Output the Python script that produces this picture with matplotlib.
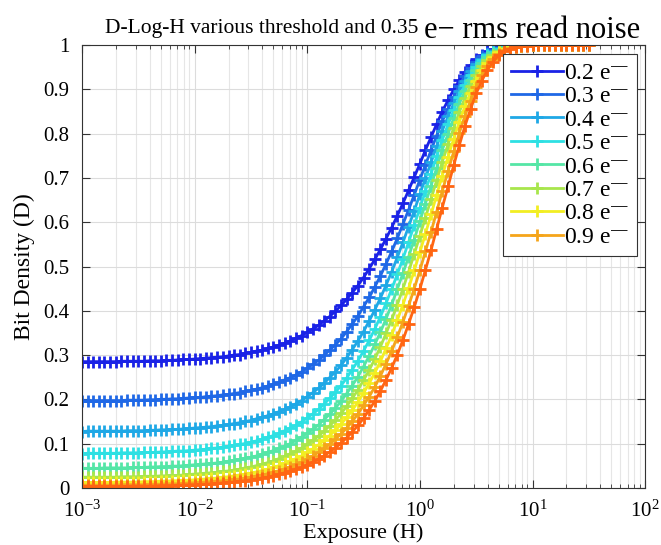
import matplotlib
matplotlib.use("Agg")
import matplotlib.pyplot as plt
from matplotlib.ticker import LogLocator, NullFormatter

plt.rcParams['font.family'] = ['Liberation Serif', 'DejaVu Serif']
plt.rcParams['mathtext.fontset'] = 'stix'

# exposure H, 20 samples per decade from 1e-3 to ~31.6
exposure = [0.00100, 0.00112, 0.00126, 0.00141, 0.00158, 0.00178, 0.00200, 0.00224, 0.00251, 0.00282,
            0.00316, 0.00355, 0.00398, 0.00447, 0.00501, 0.00562, 0.00631, 0.00708, 0.00794, 0.00891,
            0.0100, 0.0112, 0.0126, 0.0141, 0.0158, 0.0178, 0.0200, 0.0224, 0.0251, 0.0282,
            0.0316, 0.0355, 0.0398, 0.0447, 0.0501, 0.0562, 0.0631, 0.0708, 0.0794, 0.0891,
            0.100, 0.112, 0.126, 0.141, 0.158, 0.178, 0.200, 0.224, 0.251, 0.282,
            0.316, 0.355, 0.398, 0.447, 0.501, 0.562, 0.631, 0.708, 0.794, 0.891,
            1.00, 1.12, 1.26, 1.41, 1.58, 1.78, 2.00, 2.24, 2.51, 2.82,
            3.16, 3.55, 3.98, 4.47, 5.01, 5.62, 6.31, 7.08, 7.94, 8.91,
            10.0, 11.2, 12.6, 14.1, 15.8, 17.8, 20.0, 22.4, 25.1, 28.2, 31.6]

thresholds = ['0.2', '0.3', '0.4', '0.5', '0.6', '0.7', '0.8', '0.9', '1.0']

ONES = [1.0] * 10

d02 = [.285, .285, .285, .285, .285, .285, .285, .286, .286, .286, .286, .286, .287, .287, .287, .288,
       .288, .289, .290, .290, .291, .292, .293, .294, .295, .296, .298, .300, .301, .304, .306,
       .309, .311, .315, .318, .322, .327, .332, .338, .344, .351, .359, .367, .377, .387, .399, .412,
       .426, .441, .457, .475, .495, .516, .539, .563, .588, .615, .643, .672, .702, .732, .763, .793,
       .822, .850, .876, .900, .921, .940, .955, .968, .978, .986, .991, .995, .997, .999, .999, 1.0,
       1.0, 1.0] + ONES
d03 = [.197, .197, .197, .197, .197, .197, .197, .197, .198, .198, .198, .198, .199, .199, .200, .200,
       .201, .201, .202, .203, .204, .204, .206, .207, .208, .210, .211, .213, .215, .218, .220,
       .223, .226, .230, .234, .238, .244, .249, .255, .262, .270, .279, .288, .299, .311, .323, .337,
       .353, .370, .388, .409, .430, .454, .479, .506, .534, .564, .596, .628, .662, .696, .730, .763,
       .796, .828, .857, .884, .909, .930, .948, .963, .975, .983, .990, .994, .997, .998, .999, 1.0,
       1.0, 1.0] + ONES
d04 = [.127, .128, .128, .128, .128, .128, .128, .128, .129, .129, .129, .129, .130, .130, .131, .131,
       .132, .132, .133, .134, .135, .136, .137, .138, .140, .141, .143, .145, .147, .150, .152,
       .156, .159, .163, .167, .172, .177, .183, .190, .197, .206, .215, .225, .236, .249, .262, .277,
       .294, .312, .332, .353, .377, .402, .429, .458, .488, .521, .555, .590, .626, .663, .700, .736,
       .772, .807, .839, .869, .897, .920, .941, .957, .970, .980, .988, .993, .996, .998, .999, 1.0,
       1.0, 1.0] + ONES
d05 = [.077, .078, .078, .078, .078, .078, .078, .079, .079, .079, .079, .080, .080, .080, .081, .081,
       .082, .083, .083, .084, .085, .086, .087, .089, .090, .092, .094, .096, .098, .100, .103,
       .106, .110, .114, .118, .123, .129, .135, .141, .149, .158, .167, .177, .189, .202, .216, .231,
       .248, .267, .287, .309, .333, .359, .387, .417, .449, .483, .518, .555, .593, .632, .671, .710,
       .749, .786, .821, .854, .883, .910, .932, .951, .966, .977, .985, .991, .995, .997, .999, .999,
       1.0, 1.0] + ONES
d06 = [.044, .044, .044, .044, .045, .045, .045, .045, .045, .046, .046, .046, .047, .047, .048, .048,
       .049, .049, .050, .051, .052, .053, .054, .055, .056, .058, .060, .062, .064, .067, .069,
       .072, .076, .080, .084, .089, .094, .100, .107, .115, .123, .132, .142, .154, .166, .180, .196,
       .213, .231, .251, .274, .298, .324, .352, .382, .414, .449, .485, .522, .561, .602, .642, .683,
       .723, .763, .800, .836, .868, .897, .922, .943, .960, .973, .983, .989, .994, .997, .998, .999,
       1.0, 1.0] + ONES
d07 = [.024, .024, .024, .024, .024, .024, .024, .025, .025, .025, .025, .026, .026, .026, .027, .027,
       .028, .028, .029, .030, .031, .032, .033, .034, .035, .037, .038, .040, .042, .045, .047,
       .050, .053, .057, .061, .066, .071, .077, .083, .090, .098, .107, .117, .128, .140, .153, .168,
       .184, .202, .221, .243, .266, .291, .319, .349, .380, .414, .450, .488, .528, .569, .610, .653,
       .695, .736, .776, .814, .849, .881, .909, .932, .952, .967, .979, .987, .993, .996, .998, .999,
       1.0, 1.0] + ONES
d08 = [.012, .012, .012, .012, .012, .012, .013, .013, .013, .013, .013, .014, .014, .014, .015, .015,
       .016, .016, .017, .017, .018, .019, .020, .021, .022, .024, .025, .027, .029, .031, .033,
       .036, .039, .042, .046, .050, .055, .060, .066, .072, .080, .088, .097, .107, .118, .130, .144,
       .159, .175, .194, .214, .236, .260, .286, .315, .345, .379, .414, .451, .491, .532, .574, .618,
       .662, .705, .748, .789, .827, .862, .893, .920, .943, .960, .974, .984, .991, .995, .997, .999,
       1.0, 1.0] + ONES
d09 = [.006, .006, .006, .006, .006, .006, .006, .007, .007, .007, .007, .007, .008, .008, .008, .009,
       .009, .009, .010, .011, .011, .012, .013, .014, .015, .016, .017, .019, .020, .022, .024,
       .027, .029, .032, .035, .039, .043, .048, .053, .058, .065, .072, .080, .089, .098, .110, .122,
       .135, .150, .167, .186, .206, .228, .253, .280, .309, .341, .375, .411, .450, .491, .534, .579,
       .624, .670, .716, .760, .802, .840, .875, .906, .932, .953, .969, .980, .989, .994, .997, .999,
       .999, 1.0] + ONES
d10 = [.003, .003, .003, .003, .003, .003, .003, .003, .003, .004, .004, .004, .004, .004, .005, .005,
       .005, .006, .006, .007, .007, .008, .008, .009, .010, .011, .012, .013, .015, .016, .018,
       .020, .022, .024, .027, .030, .034, .037, .042, .046, .052, .058, .065, .072, .081, .090, .101,
       .113, .126, .141, .157, .176, .196, .219, .244, .271, .301, .334, .370, .408, .449, .492, .538,
       .585, .633, .681, .729, .774, .817, .856, .891, .920, .944, .963, .977, .986, .992, .996, .998,
       .999, 1.0] + ONES

curves = [d02, d03, d04, d05, d06, d07, d08, d09, d10]
colors = ['#1a22e6', '#1f68e6', '#1fa8e6', '#2ee0e3', '#55e6a6', '#a8e64c', '#f2ee22', '#f5a51a', '#ff6512']

fig = plt.figure(figsize=(6.61, 5.45), dpi=100)
ax = fig.add_axes([0.124, 0.105, 0.852, 0.812])

handles = []
for name, d, c in zip(thresholds, curves, colors):
    h, = ax.semilogx(exposure, d, '-+', color=c, lw=2, ms=9, mew=2,
                     label='%s e$^{\u2014}$' % name)
    handles.append(h)

ax.set_xlim(1e-3, 1e2)
ax.set_ylim(0, 1)
ax.xaxis.set_major_locator(LogLocator(base=10, numticks=10))
ax.xaxis.set_minor_locator(LogLocator(base=10, subs=range(2, 10), numticks=10))
ax.xaxis.set_minor_formatter(NullFormatter())
ax.set_yticks([0, .1, .2, .3, .4, .5, .6, .7, .8, .9, 1])
ax.set_yticklabels(['0', '0.1', '0.2', '0.3', '0.4', '0.5', '0.6', '0.7', '0.8', '0.9', '1'])

ax.grid(True, which='major', color='#dcdcdc', lw=0.8)
ax.grid(True, which='minor', axis='x', color='#e6e6e6', lw=0.8)
ax.set_axisbelow(True)
ax.tick_params(which='both', direction='in', top=True, right=True, labelsize=15,
               color='#333333')
ax.tick_params(axis='y', pad=9)
ax.tick_params(axis='x', pad=9)
ax.tick_params(which='major', length=6)
ax.tick_params(which='minor', length=3)
for s in ax.spines.values():
    s.set_color('#333333')
    s.set_linewidth(0.8)

ax.set_xlabel('Exposure (H)', fontsize=16, labelpad=1)
ax.set_ylabel('Bit Density (D)', fontsize=17, labelpad=6)

# title in two sizes
t1 = fig.text(0.159, 0.939, 'D-Log-H various threshold and 0.35 ', fontsize=15.5, va='baseline')
ax.annotate('e\u2212 rms read noise', xy=(1, 0), xycoords=t1, fontsize=22, va='baseline')

leg = ax.legend(handles=handles[:8], loc='upper right', bbox_to_anchor=(0.986, 0.98),
                fontsize=17, handlelength=2.2, handletextpad=0.05, labelspacing=0.08,
                borderpad=0.35, borderaxespad=0.0, fancybox=False, framealpha=1,
                edgecolor='#333333')
leg.get_frame().set_linewidth(0.8)

fig.savefig('out.png', dpi=100)
